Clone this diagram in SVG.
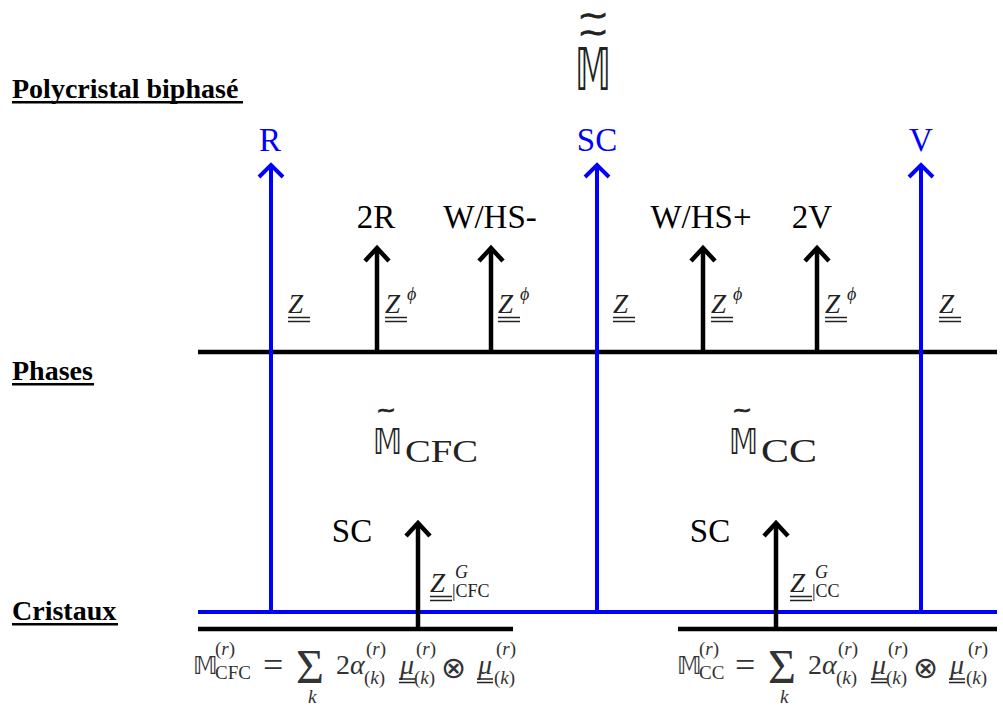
<svg xmlns="http://www.w3.org/2000/svg" width="1003" height="706" viewBox="0 0 1003 706">
<style>
.lvl{font-family:"Liberation Serif",serif;font-weight:bold;font-size:28px;fill:#000;}
.lab{font-family:"Liberation Serif",serif;font-size:33px;fill:#000;}
.blab{font-family:"Liberation Serif",serif;font-size:33px;fill:#0000ff;}
.mz{font-family:"Liberation Serif",serif;font-style:italic;font-size:27px;fill:#222;}
.sup{font-family:"Liberation Serif",serif;font-style:italic;font-size:18px;fill:#222;}
.sub{font-family:"Liberation Serif",serif;font-size:18px;fill:#222;}
.bb{font-family:"DejaVu Sans",sans-serif;fill:#222;}
.tl{font-family:"DejaVu Sans",sans-serif;fill:#222;stroke:#222;stroke-width:0.5;}
.fm{font-family:"Liberation Serif",serif;fill:#333;}
.fmi{font-family:"Liberation Serif",serif;font-style:italic;font-size:28px;fill:#333;}
.fs{font-family:"Liberation Serif",serif;font-size:19px;fill:#333;}
.ot{font-family:"DejaVu Sans",sans-serif;fill:#333;}
.dul{stroke:#222;stroke-width:1.4;fill:none;}
.blk{stroke:#000;stroke-width:4.5;fill:none;}
.blu{stroke:#0000ff;stroke-width:4;fill:none;}
</style>
<defs>
<marker id="ab" markerUnits="userSpaceOnUse" viewBox="-16 -16 20 32" refX="0" refY="0" markerWidth="20" markerHeight="32" orient="auto" overflow="visible">
<path d="M-13,-12 L0,0 L-13,12" fill="none" stroke="#000" stroke-width="4.5"/>
</marker>
<marker id="au" markerUnits="userSpaceOnUse" viewBox="-16 -16 20 32" refX="0" refY="0" markerWidth="20" markerHeight="32" orient="auto" overflow="visible">
<path d="M-12,-12 L0,0 L-12,12" fill="none" stroke="#0000ff" stroke-width="4"/>
</marker>
</defs>

<g id="levels">
<text class="lvl" x="12" y="98">Polycristal biphasé</text>
<rect x="12" y="101" width="231" height="2.5" fill="#000"/>
<text class="lvl" x="12" y="380">Phases</text>
<rect x="12" y="383" width="82" height="2.5" fill="#000"/>
<text class="lvl" x="12" y="620">Cristaux</text>
<rect x="12" y="623" width="106" height="2.5" fill="#000"/>
</g>

<g id="connectors">
<line class="blk" x1="198" y1="352" x2="997" y2="352"/>
<line class="blk" x1="198" y1="629" x2="513" y2="629"/>
<line class="blk" x1="678" y1="629" x2="997" y2="629"/>
<line class="blu" x1="198" y1="612" x2="997" y2="612"/>
<line class="blu" x1="271" y1="612" x2="271" y2="165" marker-end="url(#au)"/>
<line class="blu" x1="597" y1="612" x2="597" y2="165" marker-end="url(#au)"/>
<line class="blu" x1="921" y1="612" x2="921" y2="165" marker-end="url(#au)"/>
<line class="blk" x1="377" y1="352" x2="377" y2="248" marker-end="url(#ab)"/>
<line class="blk" x1="491" y1="352" x2="491" y2="248" marker-end="url(#ab)"/>
<line class="blk" x1="703" y1="352" x2="703" y2="248" marker-end="url(#ab)"/>
<line class="blk" x1="817" y1="352" x2="817" y2="248" marker-end="url(#ab)"/>
<line class="blk" x1="418" y1="629" x2="418" y2="523" marker-end="url(#ab)"/>
<line class="blk" x1="776" y1="629" x2="776" y2="523" marker-end="url(#ab)"/>
</g>

<g id="top-model">
<text class="tl" style="font-size:18px" text-anchor="middle" transform="translate(593,24.5) scale(2.1,1.6)">~</text>
<text class="tl" style="font-size:18px" text-anchor="middle" transform="translate(593,42) scale(2.1,1.6)">~</text>
<text class="bb" x="575" y="90" style="font-size:58px" textLength="36" lengthAdjust="spacingAndGlyphs">𝕄</text>
</g>

<g id="bounds-labels">
<text class="blab" x="270" y="151" text-anchor="middle">R</text>
<text class="blab" x="597" y="151" text-anchor="middle">SC</text>
<text class="blab" x="921" y="151" text-anchor="middle">V</text>
</g>

<g id="phase-labels">
<text class="lab" x="376" y="228" text-anchor="middle">2R</text>
<text class="lab" x="490" y="228" text-anchor="middle">W/HS-</text>
<text class="lab" x="701" y="228" text-anchor="middle">W/HS+</text>
<text class="lab" x="812" y="228" text-anchor="middle">2V</text>
</g>

<g id="z-labels">
<text class="mz" x="288" y="313">Z</text><path class="dul" d="M288,317.5H310M288,321.5H310"/>
<text class="mz" x="385" y="313">Z</text><path class="dul" d="M385,317.5H407M385,321.5H407"/><text class="sup" x="407" y="300">ϕ</text>
<text class="mz" x="498" y="313">Z</text><path class="dul" d="M498,317.5H520M498,321.5H520"/><text class="sup" x="520" y="300">ϕ</text>
<text class="mz" x="613" y="313">Z</text><path class="dul" d="M613,317.5H635M613,321.5H635"/>
<text class="mz" x="711" y="313">Z</text><path class="dul" d="M711,317.5H733M711,321.5H733"/><text class="sup" x="733" y="300">ϕ</text>
<text class="mz" x="825" y="313">Z</text><path class="dul" d="M825,317.5H847M825,321.5H847"/><text class="sup" x="847" y="300">ϕ</text>
<text class="mz" x="939" y="313">Z</text><path class="dul" d="M939,317.5H961M939,321.5H961"/>
</g>

<g id="phase-cfc">
<text class="tl" style="font-size:16px" text-anchor="middle" transform="translate(386,418) scale(1.5,1.4)">~</text>
<text class="bb" x="373" y="454" style="font-size:36px" textLength="29" lengthAdjust="spacingAndGlyphs">𝕄</text>
<text class="fm" x="405" y="462" style="font-size:32px;fill:#222" textLength="73" lengthAdjust="spacingAndGlyphs">CFC</text>
</g>
<g id="phase-cc">
<text class="tl" style="font-size:16px" text-anchor="middle" transform="translate(742,418) scale(1.5,1.4)">~</text>
<text class="bb" x="729" y="454" style="font-size:36px" textLength="29" lengthAdjust="spacingAndGlyphs">𝕄</text>
<text class="fm" x="761" y="462" style="font-size:33px;fill:#222" textLength="56" lengthAdjust="spacingAndGlyphs">CC</text>
</g>

<g id="crystal-cfc">
<text class="lab" x="352" y="542" text-anchor="middle">SC</text>
<text class="mz" x="430" y="592">Z</text><path class="dul" d="M430,596.5H452M430,600.5H452"/>
<text class="sup" x="455" y="578">G</text>
<text class="sub" x="452" y="597">|CFC</text>
</g>
<g id="crystal-cc">
<text class="lab" x="710" y="542" text-anchor="middle">SC</text>
<text class="mz" x="790" y="592">Z</text><path class="dul" d="M790,596.5H812M790,600.5H812"/>
<text class="sup" x="815" y="578">G</text>
<text class="sub" x="812" y="597">|CC</text>
</g>

<g id="formula-cfc">
<text class="bb" x="193" y="674" style="font-size:24px;fill:#333">𝕄</text>
<text class="fs" x="215" y="655">(<tspan font-style="italic">r</tspan>)</text>
<text class="fs" x="215" y="679">CFC</text>
<text class="fm" x="263" y="677" style="font-size:36px">=</text>
<text class="fm" x="296" y="683" style="font-size:48px">Σ</text>
<text class="fs" x="308" y="703" font-style="italic">k</text>
<text class="fm" x="336" y="674" style="font-size:28px">2<tspan font-style="italic">α</tspan></text>
<text class="fs" x="366" y="655">(<tspan font-style="italic">r</tspan>)</text>
<text class="fs" x="364" y="684">(<tspan font-style="italic">k</tspan>)</text>
<text class="fmi" x="400" y="674">μ</text><path class="dul" d="M399,679H415M399,682.5H415" stroke="#333"/>
<text class="fs" x="416" y="655">(<tspan font-style="italic">r</tspan>)</text>
<text class="fs" x="414" y="684">(<tspan font-style="italic">k</tspan>)</text>
<text class="ot" x="441" y="678" style="font-size:30px">⊗</text>
<text class="fmi" x="478" y="674">μ</text><path class="dul" d="M477,679H493M477,682.5H493" stroke="#333"/>
<text class="fs" x="496" y="655">(<tspan font-style="italic">r</tspan>)</text>
<text class="fs" x="494" y="684">(<tspan font-style="italic">k</tspan>)</text>
</g>

<g id="formula-cc">
<text class="bb" x="677" y="674" style="font-size:24px;fill:#333">𝕄</text>
<text class="fs" x="699" y="655">(<tspan font-style="italic">r</tspan>)</text>
<text class="fs" x="699" y="679">CC</text>
<text class="fm" x="735" y="677" style="font-size:36px">=</text>
<text class="fm" x="768" y="683" style="font-size:48px">Σ</text>
<text class="fs" x="780" y="703" font-style="italic">k</text>
<text class="fm" x="808" y="674" style="font-size:28px">2<tspan font-style="italic">α</tspan></text>
<text class="fs" x="838" y="655">(<tspan font-style="italic">r</tspan>)</text>
<text class="fs" x="836" y="684">(<tspan font-style="italic">k</tspan>)</text>
<text class="fmi" x="872" y="674">μ</text><path class="dul" d="M871,679H887M871,682.5H887" stroke="#333"/>
<text class="fs" x="888" y="655">(<tspan font-style="italic">r</tspan>)</text>
<text class="fs" x="886" y="684">(<tspan font-style="italic">k</tspan>)</text>
<text class="ot" x="913" y="678" style="font-size:30px">⊗</text>
<text class="fmi" x="950" y="674">μ</text><path class="dul" d="M949,679H965M949,682.5H965" stroke="#333"/>
<text class="fs" x="968" y="655">(<tspan font-style="italic">r</tspan>)</text>
<text class="fs" x="966" y="684">(<tspan font-style="italic">k</tspan>)</text>
</g>
</svg>
